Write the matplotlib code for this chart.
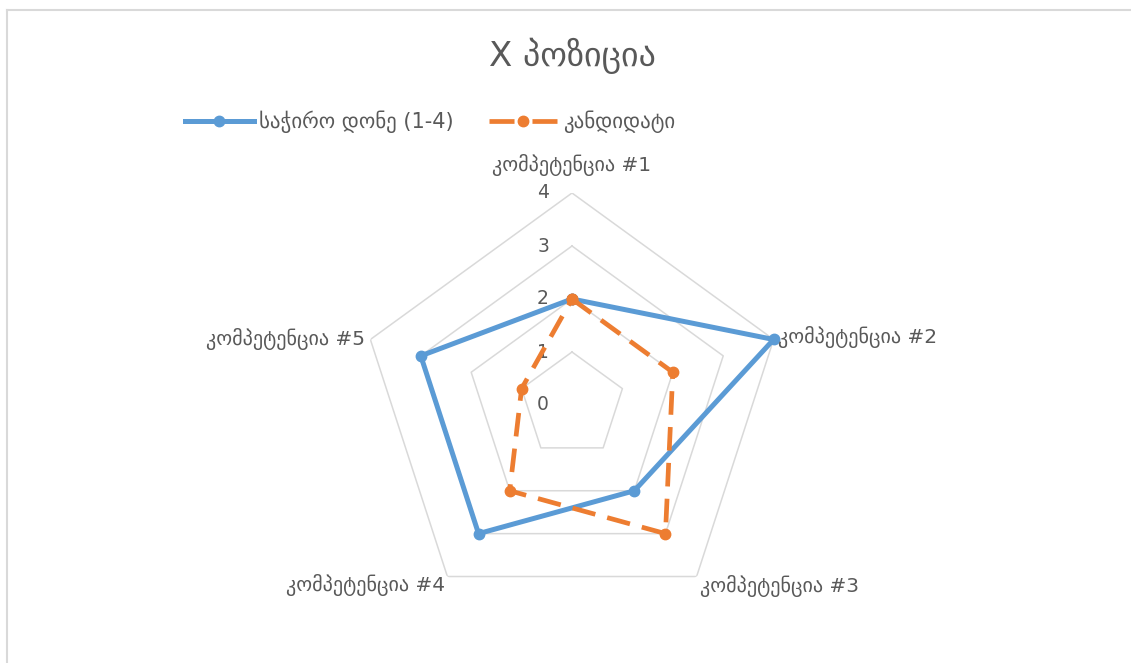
import numpy as np
import matplotlib
matplotlib.use("Agg")
import matplotlib.pyplot as plt
from matplotlib.lines import Line2D

# DATA
categories = ['კომპეტენცია #1', 'კომპეტენცია #2', 'კომპეტენცია #3',
              'კომპეტენცია #4', 'კომპეტენცია #5']
required_level = [2, 4, 2, 3, 3]
candidate_level = [2, 2, 3, 2, 1]
series_names = ['საჭირო დონე (1-4)', 'კანდიდატი']
r_ticks = [0, 1, 2, 3, 4]
title = 'X პოზიცია'

W, H = 1131, 663
BLUE = '#5B9BD5'
ORANGE = '#ED7D31'
GRID = '#D9D9D9'
TXT = '#595959'

plt.rcParams['font.family'] = ['DejaVu Sans']

fig = plt.figure(figsize=(W / 100, H / 100), dpi=100)

# polar axes: centre (572, 405) px, radius 212 px for value 4
cx, cy, rad = 572, 405, 212
ax = fig.add_axes([(cx - rad) / W, (H - cy - rad) / H, 2 * rad / W, 2 * rad / H],
                  projection='polar')
ax.set_theta_offset(np.pi / 2)
ax.set_theta_direction(-1)
ax.set_ylim(0, 4)
ax.grid(False)
ax.spines['polar'].set_visible(False)
ax.set_xticks([])
ax.set_yticks([])
ax.patch.set_alpha(0)

n = len(categories)
angles = np.linspace(0, 2 * np.pi, n, endpoint=False)
closed = np.concatenate([angles, angles[:1]])

# pentagon gridlines
for r in r_ticks[1:]:
    ax.plot(closed, [r] * (n + 1), color=GRID, lw=1.1, zorder=1)

# value labels
for r in r_ticks:
    ax.annotate(str(r), xy=(0, r), xytext=(-23, 0), textcoords='offset pixels',
                ha='right', va='center', fontsize=13.5, color=TXT)

# series
blue_vals = required_level + required_level[:1]
orange_vals = candidate_level + candidate_level[:1]
ax.plot(closed, blue_vals, color=BLUE, lw=3.6, marker='o', markersize=7.5,
        solid_joinstyle='round', zorder=3, clip_on=False)
ax.plot(closed, orange_vals, color=ORANGE, lw=3.4, marker='o', markersize=7.5,
        linestyle=(0, (5, 2.6)), zorder=4, clip_on=False)

# category labels
offsets = [(0, 28, 'center'), (4, 2, 'left'), (3, -9, 'left'),
           (-2, -8, 'right'), (-5, 0, 'right')]
for ang, lab, (dx, dy, ha) in zip(angles, categories, offsets):
    ax.annotate(lab, xy=(ang, 4), xytext=(dx, dy), textcoords='offset pixels',
                ha=ha, va='center', fontsize=14.5, color=TXT, annotation_clip=False)

# title
fig.text(cx / W, 1 - 56 / H, title, ha='center', va='center', fontsize=24.5, color=TXT)

# legend
handles = [Line2D([], [], color=BLUE, lw=3.6, marker='o', markersize=7.5),
           Line2D([], [], color=ORANGE, lw=3.4, marker='o', markersize=7.5,
                  linestyle=(0, (5.3, 3.8)))]
leg = fig.legend(handles, series_names, ncol=2, loc='center left',
                 bbox_to_anchor=(166 / W, 1 - 122 / H), frameon=False,
                 fontsize=15, handlelength=3.3, handletextpad=0.25,
                 columnspacing=1.7, labelcolor=TXT)

# chart border (left and top visible)
x0, y0 = 7 / W, 1 - 10 / H
fig.add_artist(Line2D([x0, x0], [-0.1, y0], color=GRID, lw=1.5))
fig.add_artist(Line2D([x0, 1.1], [y0, y0], color=GRID, lw=1.5))

fig.savefig('out.png', dpi=100)
